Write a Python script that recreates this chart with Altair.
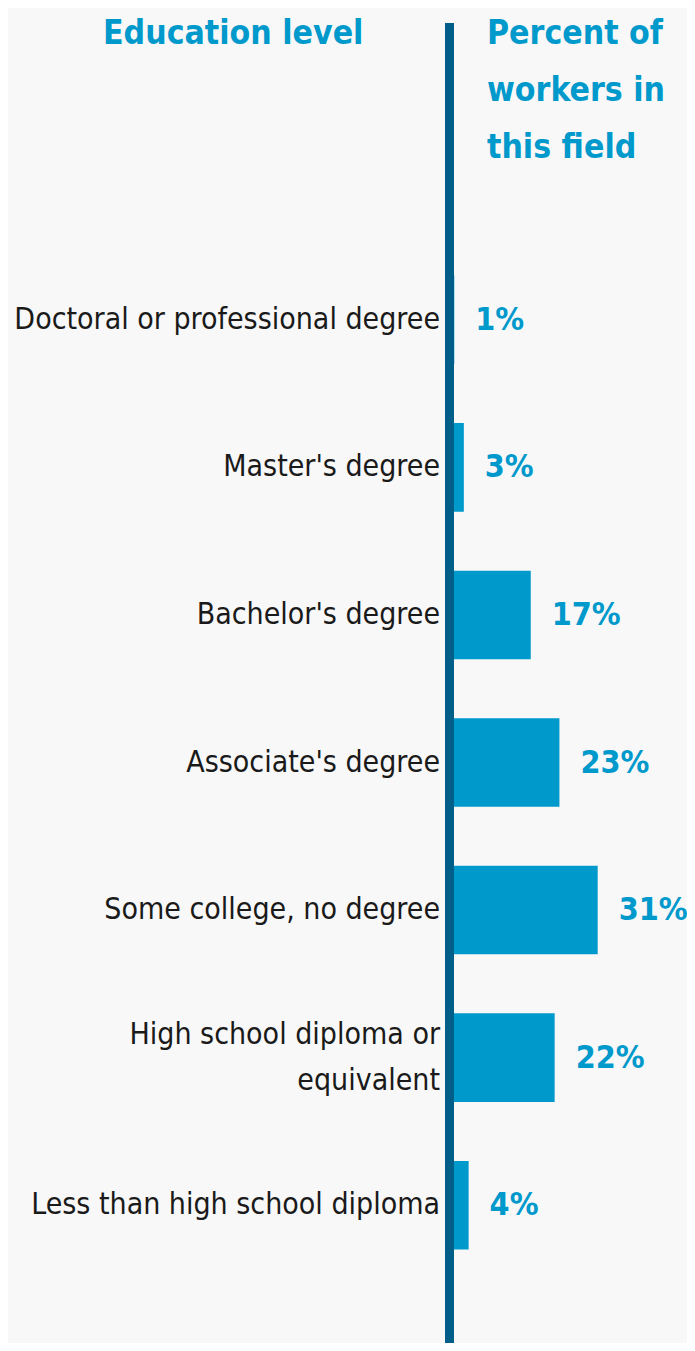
import altair as alt
import pandas as pd

categories = [
    "Doctoral or professional degree",
    "Master's degree",
    "Bachelor's degree",
    "Associate's degree",
    "Some college, no degree",
    "High school diploma or\nequivalent",
    "Less than high school diploma",
]
percents = [1, 3, 17, 23, 31, 22, 4]
value_labels = ["1%", "3%", "17%", "23%", "31%", "22%", "4%"]

df = pd.DataFrame({"cat": categories, "pct": percents, "lab": value_labels})

BLUE = "#0099cc"
DARK = "#005f88"
FONT = "DejaVu Sans Condensed"

W, H = 679, 1335
x0 = 441.5
pxper = 4.78

xs = alt.Scale(domain=[0, 31], range=[x0, x0 + 31 * pxper])
ys = alt.Scale(domain=categories, range=[238, 1271], paddingInner=0.4, paddingOuter=0.2)

base = alt.Chart(df)

bars = base.mark_bar(color=BLUE).encode(
    x=alt.X("pct:Q", scale=xs, axis=None),
    y=alt.Y("cat:N", scale=ys, axis=None, sort=categories),
)

vals = base.mark_text(align="left", baseline="middle", dx=21, font=FONT,
                      fontSize=32, fontWeight="bold", color=BLUE).encode(
    x=alt.X("pct:Q", scale=xs, axis=None),
    y=alt.Y("cat:N", scale=ys, axis=None, sort=categories),
    text="lab:N",
)

cats_single = base.transform_filter("indexof(datum.cat, '\\n') < 0").mark_text(
    align="right", baseline="middle", font=FONT, fontSize=30, color="#1a1a1a"
).encode(
    x=alt.value(432),
    y=alt.Y("cat:N", scale=ys, axis=None, sort=categories),
    text="cat:N",
)

cats_multi = base.transform_filter("indexof(datum.cat, '\\n') >= 0").mark_text(
    align="right", baseline="middle", font=FONT, fontSize=30, color="#1a1a1a",
    lineBreak="\n", lineHeight=46, dy=-23
).encode(
    x=alt.value(432),
    y=alt.Y("cat:N", scale=ys, axis=None, sort=categories),
    text="cat:N",
)

axis_line = alt.Chart(pd.DataFrame({"a": [0]})).mark_rule(color=DARK, strokeWidth=9).encode(
    x=alt.value(x0), y=alt.value(15), y2=alt.value(H)
)

head_left = alt.Chart(pd.DataFrame({"t": ["Education level"]})).mark_text(
    align="left", baseline="alphabetic", font=FONT, fontSize=33.5, fontWeight="bold", color=BLUE
).encode(x=alt.value(95), y=alt.value(36), text="t:N")

head_right = alt.Chart(pd.DataFrame({"t": ["Percent of\nworkers in\nthis field"]})).mark_text(
    align="left", baseline="alphabetic", font=FONT, fontSize=33.5, fontWeight="bold", color=BLUE,
    lineBreak="\n", lineHeight=57
).encode(x=alt.value(479), y=alt.value(36), text="t:N")

chart = alt.layer(bars, vals, cats_single, cats_multi, axis_line, head_left, head_right).properties(
    width=W, height=H, autosize=alt.AutoSizeParams(type="none"), padding=0,
    background="#f8f8f8",
).configure_view(stroke=None)

chart.save("out.html", embed_options={"renderer": "svg", "actions": False})
